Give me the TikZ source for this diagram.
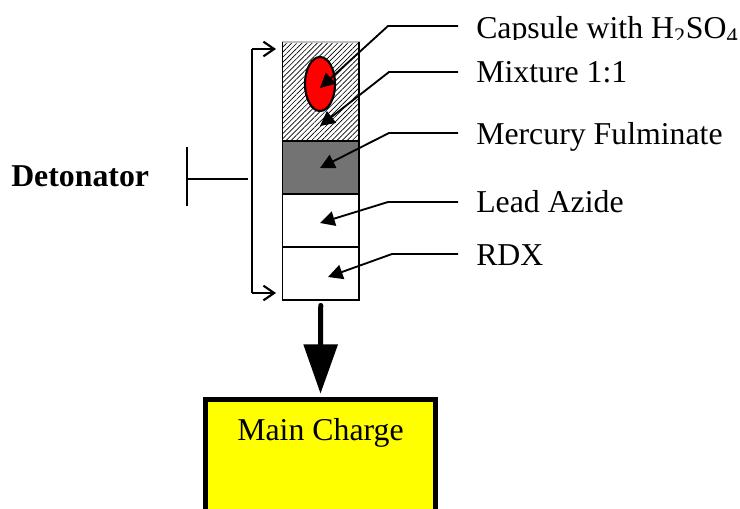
\documentclass[tikz,border=0pt]{standalone}
\usepackage{fontspec}
\setmainfont{Liberation Serif}
\usetikzlibrary{arrows.meta,patterns.meta,shapes.geometric}

\definecolor{chargeyellow}{RGB}{255,255,0}
\definecolor{capsred}{RGB}{255,0,0}

\tikzset{
  cell/.style={draw, line width=1.4pt, minimum width=57.4pt, minimum height=39.8pt, inner sep=0pt, outer sep=0pt, anchor=north west},
  txt/.style={anchor=west, inner sep=0pt, text height=16pt, text depth=0pt, font=\fontsize{23.85}{28}\selectfont},
  leader/.style={line width=1.4pt, -{Triangle[length=11pt,width=11pt]}},
  brace/.style={line width=1.6pt, -{Straight Barb[length=8pt,width=11pt]}}
}

\begin{document}
\begin{tikzpicture}[x=0.75pt, y=-0.75pt]
\clip (0,0) rectangle (740,508);
\useasboundingbox (0,0) rectangle (740,508);

\node[cell, draw=black!25, minimum height=74.3pt, pattern={Lines[angle=45, distance=2.7pt, line width=0.5pt]}] (mix) at (282.5,42) {};
\node[cell, fill=black!55] (merc) at (282.5,141) {};
\node[cell] (azide) at (282.5,194) {};
\node[cell] (rdx) at (282.5,247) {};
\draw[line width=1.4pt] (mix.north west) -- (mix.south west) -- (mix.south east) -- (mix.north east);
\node[draw, ellipse, line width=1.6pt, fill=capsred, minimum width=22.5pt, minimum height=40.5pt, inner sep=0pt] (caps) at (320,84) {};

\node[txt, inner xsep=0pt] (tcaps) at (476,28) {Capsule with H\textsubscript{2}SO\textsubscript{4}};
\fill[white] (470,39.5) rectangle (740,46);
\node[txt] (tmix) at (476,72) {Mixture 1:1};
\node[txt] (tmerc) at (476,134) {Mercury Fulminate};
\node[txt] (tazide) at (476,202) {Lead Azide};
\node[txt] (trdx) at (476,255) {RDX};
\node[txt, font=\fontsize{23.85}{28}\selectfont\bfseries] (tdet) at (11,176) {Detonator};

\coordinate (e1) at (388,26);
\coordinate (e2) at (389,72);
\coordinate (e3) at (389,133);
\coordinate (e4) at (388,202);
\coordinate (e5) at (392,254);
\coordinate (s1) at (458,26);
\coordinate (s2) at (458,72);
\coordinate (s3) at (458,133);
\coordinate (s4) at (458,202);
\coordinate (s5) at (458,254);
\coordinate (a1) at (320,88);
\coordinate (a2) at (320,126);
\coordinate (a3) at (320,168);
\coordinate (a4) at (320,223);
\coordinate (a5) at (328,277);

\draw[leader] (s1) -- (e1) -- (a1);
\draw[leader] (s2) -- (e2) -- (a2);
\draw[leader] (s3) -- (e3) -- (a3);
\draw[leader] (s4) -- (e4) -- (a4);
\draw[leader] (s5) -- (e5) -- (a5);

\coordinate (b1) at (252,49);
\coordinate (b2) at (252,293);
\coordinate (b3) at (276,49);
\coordinate (b4) at (276,293);
\draw[brace] (b2) -- (b4);
\draw[brace] (b1) -- (b3);
\draw[line width=1.6pt] (b1) -- (b2);

\coordinate (t1) at (187,147);
\coordinate (t2) at (187,206);
\coordinate (t3) at (187,179);
\coordinate (t4) at (248,179);
\draw[line width=1.4pt] (t1) -- (t2);
\draw[line width=1.4pt] (t3) -- (t4);

\node[draw, line width=4pt, fill=chargeyellow, minimum width=172.5pt, minimum height=120pt, inner sep=0pt, anchor=north] (charge) at (320.5,397) {};
\node[txt, anchor=center] (tcharge) at (320.5,430) {Main Charge};

\draw[line width=3.75pt, line cap=round, shorten <=4pt, shorten >=2.5pt, -{Triangle[length=37pt,width=25pt]}] (rdx.south) -- (charge.north);

\end{tikzpicture}
\end{document}
